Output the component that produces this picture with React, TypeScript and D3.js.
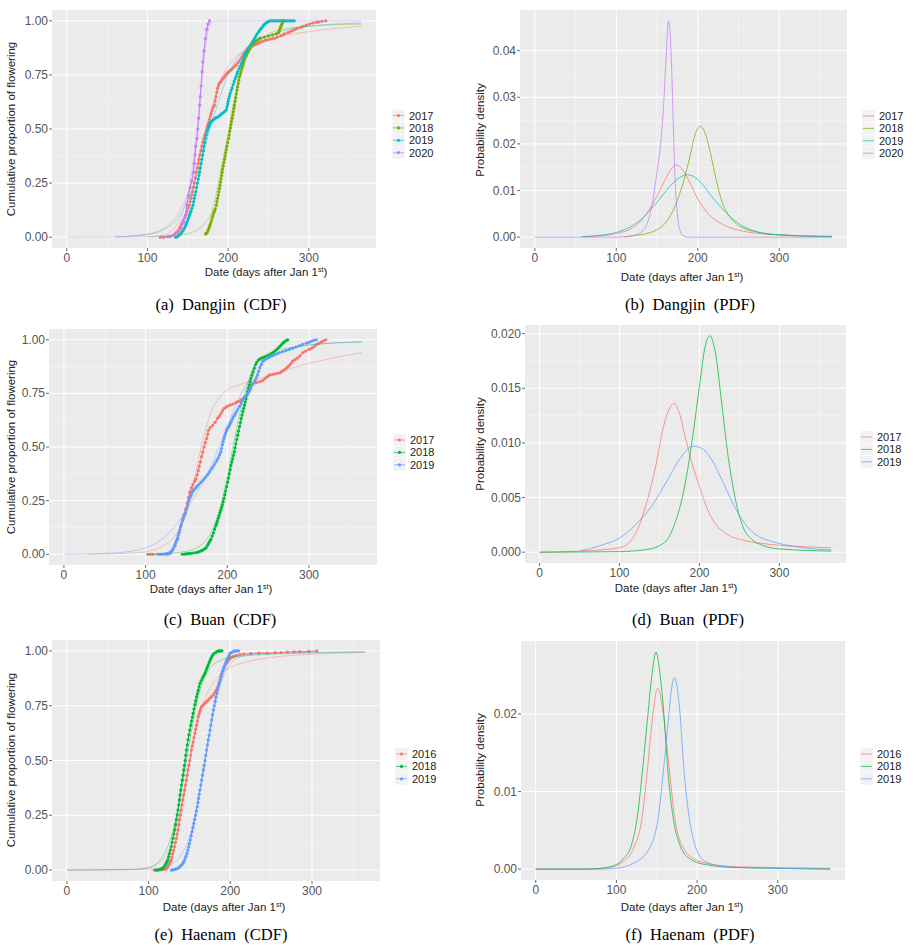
import React from "react";
import * as d3 from "d3";

type P = [number, number];

// ---------- palette (ggplot hue) ----------
const HUE4 = ["#F8766D", "#7CAE00", "#00BFC4", "#C77CFF"];
const HUE3 = ["#F8766D", "#00BA38", "#619CFF"];

// ---------- labels / ticks ----------
const YEARS_DJ = ["2017", "2018", "2019", "2020"];
const YEARS_BU = ["2017", "2018", "2019"];
const YEARS_HN = ["2016", "2018", "2019"];
const DAY_TICKS = [0, 100, 200, 300];
const DAY_MINOR = [50, 150, 250, 350];
const CDF_TICKS = [0, 0.25, 0.5, 0.75, 1];
const PDF_TICKS_B = [0, 0.01, 0.02, 0.03, 0.04];
const PDF_TICKS_D = [0, 0.005, 0.01, 0.015, 0.02];
const PDF_TICKS_F = [0, 0.01, 0.02];

// ---------- Dangjin CDF (empirical) ----------
const DJ_EMP_2017: P[] = [[116,0],[120,0],[125,0.003],[129,0.005],[132,0.01],[135,0.02],[138,0.03],[140,0.045],[142,0.06],[144,0.075],[146,0.09],[148,0.105],[149,0.12],[150.5,0.135],[152,0.148],[153,0.165],[154,0.18],[155,0.195],[156,0.21],[157,0.23],[158,0.25],[159.5,0.275],[160.6,0.3],[162,0.32],[163,0.34],[164,0.36],[165,0.38],[166.3,0.4],[167.5,0.42],[168.6,0.44],[169.7,0.456],[171,0.47],[172,0.48],[173,0.495],[174,0.51],[175,0.52],[176,0.53],[177,0.545],[178,0.56],[179,0.572],[180,0.585],[181.5,0.6],[183,0.61],[184,0.63],[185,0.65],[186,0.67],[187,0.688],[188,0.7],[189,0.71],[190,0.715],[191,0.72],[192.5,0.728],[194,0.735],[195.5,0.742],[197,0.75],[199,0.758],[200.7,0.765],[202.5,0.77],[204,0.775],[206,0.782],[208,0.79],[209.5,0.795],[211,0.8],[213,0.81],[215,0.82],[217,0.832],[219,0.845],[221,0.857],[223.6,0.87],[226,0.875],[228,0.88],[231,0.885],[234,0.89],[237,0.895],[240,0.9],[243,0.905],[246,0.91],[249,0.912],[252,0.915],[255,0.918],[258,0.92],[261,0.925],[265,0.93],[268,0.935],[270,0.94],[274,0.945],[277,0.95],[280,0.955],[283,0.96],[286,0.965],[290,0.97],[293,0.975],[297,0.98],[301,0.985],[305,0.99],[309,0.993],[312,0.995],[316,0.998],[321,1]];
const DJ_EMP_2018: P[] = [[172,0.015],[173,0.018],[174,0.02],[175,0.03],[176,0.04],[177,0.05],[178,0.06],[179,0.072],[180,0.085],[181,0.097],[182,0.11],[183,0.12],[184,0.13],[185.5,0.148],[186.2,0.165],[187,0.18],[187.8,0.195],[188.5,0.21],[189.3,0.225],[190,0.24],[190.6,0.255],[191.3,0.27],[192,0.285],[192.5,0.3],[193.2,0.315],[194,0.33],[194.8,0.345],[195.5,0.36],[196.3,0.375],[197,0.39],[197.8,0.405],[198.5,0.42],[199.5,0.438],[200.7,0.456],[201.3,0.472],[202,0.49],[202.8,0.505],[203.5,0.52],[204.2,0.535],[205,0.55],[205.8,0.565],[206.5,0.58],[207.2,0.595],[207.8,0.61],[208.7,0.628],[209.5,0.645],[210.2,0.662],[211,0.68],[211.8,0.695],[212.5,0.71],[213.2,0.725],[214,0.74],[215,0.752],[216,0.765],[217,0.778],[218,0.79],[219,0.802],[220,0.815],[221.3,0.828],[222.7,0.84],[224.3,0.852],[226,0.865],[227.5,0.875],[229,0.885],[230.5,0.893],[232,0.9],[234,0.905],[236,0.91],[238,0.915],[240,0.92],[245,0.925],[250,0.93],[255,0.935],[260,0.94],[262.6,0.946],[263.3,0.953],[264,0.96],[264.8,0.968],[265.5,0.975],[266.3,0.983],[267,0.99],[268,1],[269,1],[270,1]];
const DJ_EMP_2019: P[] = [[135,0],[136.5,0.002],[138,0.005],[139.5,0.01],[141,0.015],[142.5,0.022],[144,0.03],[145.5,0.04],[147,0.05],[148,0.06],[149,0.07],[150,0.08],[151,0.09],[152,0.1],[153,0.11],[154,0.12],[155,0.133],[156.5,0.148],[157.3,0.165],[158,0.18],[159,0.195],[160,0.21],[161,0.23],[162,0.25],[163,0.268],[164,0.285],[164.8,0.3],[165.6,0.32],[166.5,0.34],[167.5,0.36],[168.5,0.38],[169.3,0.4],[170,0.42],[171,0.438],[172,0.456],[173,0.473],[174,0.49],[175,0.5],[176,0.51],[177,0.52],[178,0.53],[179.5,0.535],[181,0.54],[182.5,0.545],[184,0.55],[185.5,0.553],[187,0.555],[188.7,0.56],[190.4,0.565],[192,0.57],[194,0.575],[196,0.582],[197.9,0.59],[198.7,0.603],[199.5,0.615],[200.1,0.628],[200.7,0.64],[201.6,0.652],[202.5,0.665],[203.7,0.678],[205,0.69],[206.2,0.705],[207.5,0.72],[208.7,0.733],[210,0.745],[211,0.755],[212,0.765],[213.5,0.778],[215,0.79],[216.5,0.803],[218,0.815],[219,0.828],[220,0.84],[221.5,0.85],[223,0.86],[224.5,0.87],[226,0.88],[228,0.89],[229.8,0.9],[231.5,0.91],[233,0.92],[234.5,0.93],[236,0.94],[238,0.95],[239.5,0.958],[241,0.965],[242.5,0.972],[244,0.98],[245.5,0.985],[247,0.99],[249,0.995],[250.5,0.998],[252,1],[254,1],[256,1],[258,1],[260,1],[262,1],[264,1],[266,1],[268,1],[270,1],[272,1],[274,1],[276,1],[278,1],[280,1],[282,1]];
const DJ_EMP_2020: P[] = [[120,0],[128,0.003],[133,0.01],[138,0.02],[142,0.04],[145,0.07],[147,0.1],[149,0.15],[151,0.19],[153,0.23],[155,0.26],[157,0.3],[158,0.34],[159,0.38],[160,0.42],[161.5,0.456],[162.5,0.5],[163.5,0.55],[164.8,0.61],[165.5,0.65],[166.5,0.7],[167.7,0.765],[168.7,0.81],[170,0.86],[171.8,0.918],[173.5,0.96],[175,0.985],[177,1]];

// ---------- Dangjin CDF (fitted) ----------
const DJ_FIT_2017: P[] = [[60,0],[80,0.005],[100,0.015],[120,0.04],[140,0.12],[150,0.2],[160,0.32],[170,0.46],[180,0.6],[190,0.72],[200,0.79],[210,0.835],[220,0.86],[240,0.9],[260,0.925],[300,0.95],[365,0.975]];
const DJ_FIT_2018: P[] = [[100,0.001],[140,0.01],[160,0.03],[170,0.06],[180,0.12],[190,0.29],[200,0.48],[210,0.68],[220,0.81],[232,0.885],[250,0.94],[275,0.965],[300,0.975],[365,0.985]];
const DJ_FIT_2019: P[] = [[60,0.002],[100,0.012],[120,0.035],[140,0.1],[150,0.17],[160,0.27],[170,0.4],[180,0.53],[190,0.65],[200,0.75],[210,0.82],[220,0.86],[232,0.89],[250,0.93],[275,0.96],[300,0.975],[365,0.99]];
const DJ_FIT_2020: P[] = [[0,0],[100,0.002],[120,0.01],[130,0.03],[140,0.08],[150,0.2],[155,0.3],[160,0.45],[165,0.63],[170,0.82],[175,0.95],[180,0.995],[190,1],[365,1]];

// ---------- Dangjin PDF ----------
const DJ_PDF_2017: P[] = [[60,0.0001],[80,0.0003],[100,0.0008],[120,0.002],[130,0.0035],[140,0.0058],[150,0.0088],[160,0.0123],[167,0.0145],[174,0.0155],[180,0.0148],[190,0.0118],[200,0.0082],[210,0.0056],[220,0.0039],[230,0.0028],[240,0.002],[250,0.0015],[275,0.0008],[300,0.0005],[365,0.0002]];
const DJ_PDF_2018: P[] = [[110,0],[120,0.0003],[140,0.0009],[150,0.0016],[160,0.003],[170,0.0058],[180,0.0105],[190,0.017],[197,0.0222],[203,0.0238],[208,0.0228],[215,0.0185],[222,0.0128],[230,0.0075],[240,0.0042],[250,0.0025],[275,0.001],[300,0.0005],[365,0.0001]];
const DJ_PDF_2019: P[] = [[57,0.0001],[80,0.0004],[100,0.001],[120,0.0025],[130,0.0037],[140,0.0055],[150,0.0075],[160,0.0097],[170,0.0117],[180,0.013],[187,0.0134],[195,0.013],[205,0.0115],[215,0.0092],[225,0.0071],[235,0.0052],[245,0.0036],[255,0.0024],[270,0.0013],[300,0.0005],[365,0.0001]];
const DJ_PDF_2020: P[] = [[0,0],[100,0],[120,0.0003],[130,0.001],[140,0.004],[145,0.008],[150,0.014],[155,0.021],[158,0.028],[161,0.038],[164,0.0464],[166,0.044],[168,0.036],[170,0.024],[172,0.013],[175,0.005],[178,0.0015],[182,0.0003],[190,0],[365,0]];

// ---------- Buan CDF (empirical) ----------
const BU_EMP_2017: P[] = [[103,0],[106,0],[109,0],[127,0],[130,0.005],[133,0.02],[136,0.04],[139,0.07],[141,0.1],[143,0.133],[145,0.16],[147,0.185],[149,0.21],[151,0.24],[152.5,0.265],[154,0.29],[156,0.31],[158,0.325],[160,0.34],[161.5,0.35],[163,0.37],[164.5,0.39],[165.6,0.41],[167,0.43],[168.5,0.455],[170,0.477],[171.5,0.5],[173,0.52],[174.6,0.54],[176,0.56],[177,0.578],[179,0.59],[182,0.6],[185,0.615],[188,0.633],[190,0.643],[192,0.655],[194,0.668],[196,0.68],[198,0.685],[200,0.69],[203,0.695],[206.6,0.7],[210,0.705],[212,0.71],[214.8,0.714],[217,0.72],[219,0.725],[221,0.732],[223,0.74],[225,0.755],[227,0.77],[229,0.785],[231,0.797],[233,0.8],[236,0.8],[240,0.805],[243.5,0.81],[246,0.818],[248,0.825],[250,0.83],[251.7,0.836],[255,0.838],[258,0.84],[261,0.843],[264,0.845],[266,0.85],[268,0.855],[270,0.86],[272,0.867],[274,0.873],[276,0.88],[278,0.89],[280,0.9],[283,0.907],[286,0.915],[289,0.925],[292.7,0.94],[296,0.947],[300,0.955],[303,0.96],[305,0.965],[307,0.971],[309,0.977],[312,0.983],[315,0.99],[318,0.995],[320.6,1]];
const BU_EMP_2018: P[] = [[145,0],[148,0.001],[150,0.002],[152,0.003],[155,0.004],[158,0.006],[161.5,0.008],[164,0.01],[166,0.013],[168,0.016],[170,0.02],[172,0.025],[174,0.03],[175.5,0.04],[177,0.05],[178.5,0.06],[180,0.07],[181.5,0.085],[183,0.1],[184.5,0.117],[186,0.133],[187,0.144],[188,0.155],[189,0.168],[190,0.18],[191,0.193],[192,0.205],[193,0.218],[194,0.23],[195,0.245],[196,0.26],[197,0.278],[198,0.295],[199.2,0.315],[200.5,0.336],[201.5,0.355],[202.5,0.375],[203.5,0.395],[204.5,0.414],[205.5,0.43],[206.5,0.445],[207.5,0.461],[208.6,0.477],[209.5,0.496],[210.5,0.515],[211.6,0.535],[212.7,0.555],[213.8,0.575],[215,0.595],[216,0.614],[217,0.633],[218,0.649],[219,0.665],[220,0.68],[221,0.695],[222,0.71],[223,0.725],[224,0.741],[225,0.758],[226,0.774],[227,0.79],[228,0.805],[229,0.82],[230.2,0.835],[231.5,0.85],[233,0.867],[234.5,0.883],[236,0.894],[238,0.905],[240,0.91],[241.5,0.914],[244,0.917],[246,0.92],[249,0.925],[252,0.93],[254,0.935],[256,0.94],[258,0.947],[260,0.953],[262,0.96],[264,0.968],[266,0.976],[268,0.984],[269.5,0.989],[271,0.993],[272.5,0.997],[274,1]];
const BU_EMP_2019: P[] = [[115,0],[118,0],[120,0],[123,0.001],[125,0.002],[127,0.003],[128.7,0.005],[130.5,0.01],[132,0.015],[133.5,0.025],[135,0.035],[136,0.045],[137,0.055],[138,0.065],[139,0.075],[140,0.088],[141,0.1],[142,0.114],[143,0.128],[144,0.142],[145,0.156],[146,0.165],[147,0.175],[148,0.185],[149,0.195],[150,0.207],[151,0.22],[152,0.235],[153,0.25],[154,0.26],[155,0.27],[156,0.28],[157,0.29],[158,0.295],[159,0.3],[160,0.305],[161.5,0.31],[163,0.317],[165,0.325],[167.5,0.335],[170,0.344],[172,0.353],[174,0.362],[176,0.372],[178,0.383],[180,0.394],[182,0.405],[184,0.417],[186,0.43],[187.5,0.44],[189,0.45],[190.5,0.463],[192,0.477],[193,0.493],[194,0.51],[195,0.525],[196,0.54],[197,0.553],[198,0.565],[199,0.575],[200,0.585],[201.2,0.592],[202.5,0.6],[203.7,0.61],[205,0.62],[206.5,0.632],[208,0.643],[209.5,0.653],[211,0.664],[213,0.677],[215,0.69],[217,0.705],[219,0.72],[221,0.73],[223,0.74],[225,0.75],[227,0.76],[228.5,0.772],[230,0.785],[232,0.797],[234,0.81],[235.5,0.823],[237,0.836],[238.5,0.853],[240,0.87],[241.7,0.885],[243.5,0.9],[245.5,0.906],[248,0.912],[250,0.916],[252,0.92],[255,0.925],[258,0.93],[261,0.935],[264,0.94],[268,0.945],[272,0.95],[276,0.955],[280,0.96],[284,0.966],[288,0.972],[292,0.978],[297,0.984],[300,0.988],[303,0.993],[306,0.997],[309,1]];

// ---------- Buan CDF (fitted) ----------
const BU_FIT_2017: P[] = [[30,0],[60,0.002],[80,0.005],[100,0.012],[120,0.035],[140,0.11],[150,0.2],[160,0.36],[170,0.53],[180,0.66],[190,0.73],[200,0.765],[215,0.79],[240,0.82],[260,0.845],[300,0.89],[330,0.915],[365,0.94]];
const BU_FIT_2018: P[] = [[100,0],[120,0.002],[140,0.008],[160,0.025],[170,0.05],[180,0.1],[190,0.2],[200,0.36],[210,0.56],[220,0.73],[230,0.85],[240,0.91],[260,0.95],[280,0.965],[300,0.975],[365,0.99]];
const BU_FIT_2019: P[] = [[0,0],[30,0.002],[60,0.006],[80,0.013],[100,0.03],[120,0.07],[140,0.15],[160,0.27],[175,0.37],[190,0.5],[200,0.6],[210,0.69],[220,0.77],[230,0.83],[240,0.88],[260,0.93],[280,0.96],[300,0.975],[330,0.985],[365,0.99]];

// ---------- Buan PDF ----------
const BU_PDF_2017: P[] = [[0,0],[50,0.0001],[100,0.0004],[120,0.0017],[135,0.0048],[145,0.0078],[155,0.0115],[162,0.0131],[168,0.0136],[175,0.0127],[182,0.0106],[190,0.0083],[200,0.006],[210,0.0039],[220,0.0026],[235,0.0016],[255,0.0011],[290,0.0007],[330,0.0005],[365,0.0004]];
const BU_PDF_2018: P[] = [[0,0],[100,0.00005],[130,0.0002],[150,0.0006],[160,0.0012],[170,0.0028],[180,0.0055],[190,0.0098],[200,0.0152],[207,0.0188],[213,0.0198],[220,0.0182],[228,0.0135],[235,0.0092],[245,0.0048],[255,0.0022],[265,0.0012],[280,0.0006],[300,0.0003],[365,0.0001]];
const BU_PDF_2019: P[] = [[50,0.0001],[80,0.0007],[100,0.0013],[120,0.0025],[140,0.0042],[160,0.0066],[175,0.0085],[192,0.0097],[205,0.0094],[215,0.0085],[230,0.0063],[245,0.004],[260,0.0023],[275,0.0014],[290,0.001],[330,0.0004],[365,0.0002]];

// ---------- Haenam CDF (empirical) ----------
const HN_EMP_2016: P[] = [[107,0],[110,0],[112,0],[115,0.001],[117,0.002],[119,0.003],[121.5,0.005],[123,0.012],[124,0.02],[125,0.027],[126,0.035],[127,0.04],[127.7,0.046],[128.6,0.06],[129.5,0.075],[130.6,0.09],[131.8,0.107],[132.9,0.126],[134,0.145],[135,0.164],[136,0.183],[137,0.207],[138,0.23],[139,0.252],[140,0.274],[141,0.297],[142,0.32],[143.1,0.343],[144.2,0.365],[145.2,0.388],[146.2,0.41],[147.3,0.433],[148.3,0.457],[149.4,0.478],[150.4,0.5],[151.5,0.524],[152.5,0.548],[153.5,0.567],[154.5,0.585],[155.6,0.605],[156.6,0.624],[157.6,0.642],[158.6,0.66],[159.7,0.68],[160.7,0.7],[161.8,0.713],[162.8,0.725],[163.9,0.736],[164.9,0.746],[166.5,0.752],[168,0.758],[169.5,0.763],[171,0.769],[173,0.776],[175,0.784],[177,0.792],[179.3,0.8],[181,0.81],[182.5,0.82],[184,0.832],[185.5,0.845],[186.5,0.857],[187.6,0.87],[188.7,0.884],[189.7,0.898],[190.7,0.908],[191.7,0.918],[192.8,0.927],[193.8,0.936],[195.4,0.944],[197,0.952],[198.5,0.96],[200,0.967],[202,0.971],[204,0.975],[206,0.978],[208,0.98],[212,0.983],[216.5,0.986],[225,0.988],[235,0.99],[245,0.99],[255,0.992],[262,0.993],[270,0.995],[278,0.996],[285,0.997],[296,0.998],[306,1]];
const HN_EMP_2018: P[] = [[109,0],[111,0.001],[113,0.002],[115,0.005],[117,0.008],[118.5,0.013],[120,0.02],[121.2,0.03],[122.3,0.038],[123.5,0.046],[124.5,0.06],[125.5,0.075],[126.6,0.091],[127.7,0.107],[128.7,0.126],[129.8,0.145],[130.8,0.164],[131.8,0.183],[132.9,0.207],[134,0.23],[135,0.252],[136,0.274],[136.9,0.297],[137.7,0.32],[138.5,0.343],[139.3,0.365],[140.2,0.388],[141.2,0.41],[142.1,0.433],[143,0.457],[143.8,0.478],[144.7,0.5],[145.5,0.524],[146.3,0.548],[147.3,0.572],[148.4,0.595],[149.4,0.617],[150.4,0.639],[151.5,0.66],[152.5,0.68],[153.5,0.698],[154.5,0.715],[155.5,0.735],[156.6,0.755],[157.6,0.772],[158.7,0.79],[159.7,0.805],[160.7,0.82],[161.8,0.836],[162.8,0.852],[164.4,0.865],[166,0.877],[167.5,0.888],[169,0.898],[170,0.908],[171,0.918],[172,0.927],[173,0.936],[174,0.946],[175,0.955],[176.2,0.965],[177.3,0.974],[178.6,0.981],[180,0.988],[181.8,0.993],[183.5,0.997],[185,0.999],[186.5,1],[188,1],[189.7,1]];
const HN_EMP_2019: P[] = [[128,0],[130,0.001],[132,0.003],[134,0.005],[136,0.008],[137.5,0.013],[139,0.018],[140.5,0.024],[142,0.03],[143.2,0.04],[144.5,0.05],[145.8,0.063],[147,0.076],[148,0.09],[149,0.105],[150,0.121],[151,0.137],[152.1,0.156],[153.2,0.175],[154.3,0.194],[155.4,0.213],[156.4,0.231],[157.5,0.25],[158.5,0.27],[159.5,0.289],[160.4,0.308],[161.2,0.327],[162,0.346],[162.8,0.365],[163.9,0.388],[165,0.41],[166,0.433],[167,0.457],[168,0.478],[169,0.5],[170,0.524],[171,0.548],[172,0.571],[173,0.594],[174.1,0.616],[175.2,0.639],[176.2,0.662],[177.2,0.685],[178.2,0.708],[179.3,0.73],[180.3,0.75],[181.4,0.77],[182.4,0.789],[183.5,0.807],[184.5,0.824],[185.5,0.84],[186.6,0.854],[187.6,0.868],[188.6,0.882],[189.6,0.895],[190.6,0.908],[191.7,0.921],[192.7,0.93],[193.8,0.94],[194.8,0.95],[195.9,0.959],[197,0.967],[198,0.975],[199,0.983],[200,0.99],[201.5,0.993],[203,0.996],[204.5,0.998],[206,1],[208,1],[210,1]];

// ---------- Haenam CDF (fitted) ----------
const HN_FIT_2016: P[] = [[0,0],[80,0.002],[100,0.01],[110,0.025],[120,0.06],[130,0.14],[140,0.3],[150,0.5],[160,0.67],[170,0.79],[180,0.86],[190,0.9],[200,0.925],[220,0.95],[250,0.97],[300,0.985],[365,0.993]];
const HN_FIT_2018: P[] = [[0,0],[80,0.003],[100,0.012],[110,0.03],[120,0.08],[130,0.18],[140,0.36],[150,0.58],[160,0.78],[170,0.89],[180,0.94],[190,0.96],[200,0.97],[250,0.985],[365,0.995]];
const HN_FIT_2019: P[] = [[0,0],[100,0.003],[120,0.015],[130,0.03],[140,0.07],[150,0.15],[160,0.3],[170,0.52],[180,0.73],[190,0.87],[200,0.94],[210,0.97],[230,0.985],[365,0.997]];

// ---------- Haenam PDF ----------
const HN_PDF_2016: P[] = [[0,0],[60,0],[90,0.0002],[106,0.0008],[122,0.0029],[132,0.0068],[138,0.0124],[144,0.0188],[151,0.0233],[156,0.0215],[160,0.0184],[166,0.0124],[172,0.0068],[182,0.0029],[198,0.0012],[226,0.0005],[250,0.0003],[300,0.0002],[365,0.0001]];
const HN_PDF_2018: P[] = [[0,0],[60,0],[80,0.0001],[100,0.0006],[110,0.0015],[118,0.0029],[126,0.0068],[132,0.0124],[138,0.0188],[144,0.025],[149,0.028],[153,0.026],[158,0.021],[164,0.0124],[170,0.0068],[178,0.0033],[190,0.0014],[210,0.0006],[250,0.0002],[300,0.0001],[365,0]];
const HN_PDF_2019: P[] = [[0,0],[80,0],[98,0.0001],[122,0.0008],[142,0.0029],[152,0.0068],[158,0.0124],[164,0.0188],[168,0.023],[172,0.0247],[175,0.0235],[178,0.021],[184,0.0124],[190,0.0068],[198,0.0029],[210,0.001],[234,0.0003],[300,0.0001],[365,0]];

// ---------- layout ----------
const SANS = "'Liberation Sans', Arial, Helvetica, sans-serif";
const SERIF = "'Liberation Serif', 'Times New Roman', serif";
const X_DOMAIN: [number, number] = [-18.25, 383.25];

type Series = { emp?: P[]; fit: P[]; color: string };
type PanelCfg = {
  id: string;
  box: { l: number; r: number; t: number; b: number };
  kind: "cdf" | "pdf";
  yTicks: number[];
  yFmt: (v: number) => string;
  yMinor: number[];
  yTitle: string;
  yTitlePos: [number, number];
  xTitlePos: [number, number];
  caption: string;
  captionPos: [number, number];
  legend: { x: number; y: number; dy: number; labels: string[] };
  series: Series[];
};

const fmt2 = d3.format(".2f");
const fmt3 = d3.format(".3f");
const LEG_DY = 12.4;

const PANELS: PanelCfg[] = [
  {
    id: "a", box: { l: 52, r: 376, t: 10, b: 248 }, kind: "cdf",
    yTicks: CDF_TICKS, yFmt: fmt2, yMinor: [0.125, 0.375, 0.625, 0.875],
    yTitle: "Cumulative proportion of flowering", yTitlePos: [15, 129],
    xTitlePos: [266, 276], caption: "(a)  Dangjin  (CDF)", captionPos: [221, 310],
    legend: { x: 392, y: 115.5, dy: LEG_DY, labels: YEARS_DJ },
    series: [
      { emp: DJ_EMP_2017, fit: DJ_FIT_2017, color: HUE4[0] },
      { emp: DJ_EMP_2018, fit: DJ_FIT_2018, color: HUE4[1] },
      { emp: DJ_EMP_2019, fit: DJ_FIT_2019, color: HUE4[2] },
      { emp: DJ_EMP_2020, fit: DJ_FIT_2020, color: HUE4[3] },
    ],
  },
  {
    id: "b", box: { l: 520, r: 847, t: 10, b: 248 }, kind: "pdf",
    yTicks: PDF_TICKS_B, yFmt: fmt2, yMinor: [0.005, 0.015, 0.025, 0.035, 0.045],
    yTitle: "Probability density", yTitlePos: [484, 130],
    xTitlePos: [682, 281], caption: "(b)  Dangjin  (PDF)", captionPos: [690, 310],
    legend: { x: 862, y: 116, dy: LEG_DY, labels: YEARS_DJ },
    series: [
      { fit: DJ_PDF_2017, color: HUE4[0] },
      { fit: DJ_PDF_2018, color: HUE4[1] },
      { fit: DJ_PDF_2019, color: HUE4[2] },
      { fit: DJ_PDF_2020, color: HUE4[3] },
    ],
  },
  {
    id: "c", box: { l: 49, r: 377, t: 329, b: 565 }, kind: "cdf",
    yTicks: CDF_TICKS, yFmt: fmt2, yMinor: [0.125, 0.375, 0.625, 0.875],
    yTitle: "Cumulative proportion of flowering", yTitlePos: [15, 447],
    xTitlePos: [211, 593], caption: "(c)  Buan  (CDF)", captionPos: [220, 625],
    legend: { x: 393, y: 440, dy: LEG_DY, labels: YEARS_BU },
    series: [
      { emp: BU_EMP_2017, fit: BU_FIT_2017, color: HUE3[0] },
      { emp: BU_EMP_2018, fit: BU_FIT_2018, color: HUE3[1] },
      { emp: BU_EMP_2019, fit: BU_FIT_2019, color: HUE3[2] },
    ],
  },
  {
    id: "d", box: { l: 525, r: 846, t: 325, b: 563 }, kind: "pdf",
    yTicks: PDF_TICKS_D, yFmt: fmt3, yMinor: [0.0025, 0.0075, 0.0125, 0.0175],
    yTitle: "Probability density", yTitlePos: [484, 444],
    xTitlePos: [676, 592], caption: "(d)  Buan  (PDF)", captionPos: [688, 625],
    legend: { x: 860, y: 437, dy: LEG_DY, labels: YEARS_BU },
    series: [
      { fit: BU_PDF_2017, color: HUE3[0] },
      { fit: BU_PDF_2018, color: HUE3[1] },
      { fit: BU_PDF_2019, color: HUE3[2] },
    ],
  },
  {
    id: "e", box: { l: 52, r: 380, t: 640, b: 881 }, kind: "cdf",
    yTicks: CDF_TICKS, yFmt: fmt2, yMinor: [0.125, 0.375, 0.625, 0.875],
    yTitle: "Cumulative proportion of flowering", yTitlePos: [15, 760],
    xTitlePos: [224, 911], caption: "(e)  Haenam  (CDF)", captionPos: [221, 940],
    legend: { x: 395, y: 754, dy: LEG_DY, labels: YEARS_HN },
    series: [
      { emp: HN_EMP_2016, fit: HN_FIT_2016, color: HUE3[0] },
      { emp: HN_EMP_2018, fit: HN_FIT_2018, color: HUE3[1] },
      { emp: HN_EMP_2019, fit: HN_FIT_2019, color: HUE3[2] },
    ],
  },
  {
    id: "f", box: { l: 521, r: 845, t: 641, b: 880 }, kind: "pdf",
    yTicks: PDF_TICKS_F, yFmt: fmt2, yMinor: [0.005, 0.015, 0.025],
    yTitle: "Probability density", yTitlePos: [484, 760],
    xTitlePos: [682, 911], caption: "(f)  Haenam  (PDF)", captionPos: [690, 940],
    legend: { x: 860, y: 754, dy: LEG_DY, labels: YEARS_HN },
    series: [
      { fit: HN_PDF_2016, color: HUE3[0] },
      { fit: HN_PDF_2018, color: HUE3[1] },
      { fit: HN_PDF_2019, color: HUE3[2] },
    ],
  },
];

function Panel({ cfg }: { cfg: PanelCfg }) {
  const { box } = cfg;
  const x = d3.scaleLinear().domain(X_DOMAIN).range([box.l, box.r]);
  let yDom: [number, number];
  if (cfg.kind === "cdf") {
    yDom = [-0.05, 1.05];
  } else {
    const mx = d3.max(cfg.series, (s) => d3.max(s.fit, (p) => p[1])) as number;
    yDom = [-0.05 * mx, 1.05 * mx];
  }
  const y = d3.scaleLinear().domain(yDom).range([box.b, box.t]);
  const straight = d3.line<P>().x((p) => x(p[0])).y((p) => y(p[1]));
  const smooth = d3
    .line<P>()
    .x((p) => x(p[0]))
    .y((p) => y(p[1]))
    .curve(d3.curveMonotoneX);
  const clipId = `clip-${cfg.id}`;
  const tickColor = "#555";
  const minorY = cfg.yMinor.filter((v) => v > yDom[0] && v < yDom[1]);

  return (
    <g>
      <defs>
        <clipPath id={clipId}>
          <rect x={box.l} y={box.t} width={box.r - box.l} height={box.b - box.t} />
        </clipPath>
      </defs>
      <rect x={box.l} y={box.t} width={box.r - box.l} height={box.b - box.t} fill="#EBEBEB" />
      {/* grid */}
      {DAY_MINOR.map((d) => (
        <line key={"xm" + d} x1={x(d)} x2={x(d)} y1={box.t} y2={box.b} stroke="#fff" strokeWidth={0.5} opacity={0.8} />
      ))}
      {minorY.map((v) => (
        <line key={"ym" + v} x1={box.l} x2={box.r} y1={y(v)} y2={y(v)} stroke="#fff" strokeWidth={0.5} opacity={0.8} />
      ))}
      {DAY_TICKS.map((d) => (
        <line key={"xM" + d} x1={x(d)} x2={x(d)} y1={box.t} y2={box.b} stroke="#fff" strokeWidth={1} />
      ))}
      {cfg.yTicks.map((v) => (
        <line key={"yM" + v} x1={box.l} x2={box.r} y1={y(v)} y2={y(v)} stroke="#fff" strokeWidth={1} />
      ))}
      {/* data */}
      <g clipPath={`url(#${clipId})`}>
        {cfg.series.map((s, i) =>
          s.emp ? (
            <g key={"e" + i}>
              <path d={straight(s.emp) || ""} fill="none" stroke={s.color} strokeWidth={1.1} />
              {s.emp.map((p, j) => (
                <circle key={j} cx={x(p[0])} cy={y(p[1])} r={1.6} fill={s.color} />
              ))}
            </g>
          ) : null
        )}
        {cfg.series.map((s, i) => (
          <path
            key={"f" + i}
            d={smooth(s.fit) || ""}
            fill="none"
            stroke={s.color}
            strokeWidth={cfg.kind === "cdf" ? 0.7 : 1}
            opacity={cfg.kind === "cdf" ? 0.55 : 0.75}
          />
        ))}
      </g>
      {/* axes ticks */}
      {DAY_TICKS.map((d) => (
        <g key={"xt" + d}>
          <line x1={x(d)} x2={x(d)} y1={box.b} y2={box.b + 3} stroke="#444" strokeWidth={0.8} />
          <text x={x(d)} y={box.b + 14} textAnchor="middle" fontSize={12} fill={tickColor} fontFamily={SANS}>
            {d}
          </text>
        </g>
      ))}
      {cfg.yTicks.map((v) => (
        <g key={"yt" + v}>
          <line x1={box.l - 3} x2={box.l} y1={y(v)} y2={y(v)} stroke="#444" strokeWidth={0.8} />
          <text x={box.l - 4} y={y(v) + 4} textAnchor="end" fontSize={12} fill={tickColor} fontFamily={SANS}>
            {cfg.yFmt(v)}
          </text>
        </g>
      ))}
      {/* axis titles */}
      <text
        x={cfg.xTitlePos[0]}
        y={cfg.xTitlePos[1]}
        textAnchor="middle"
        fontSize={11.5}
        fill="#222"
        fontFamily={SANS}
      >
        Date (days after Jan 1<tspan fontSize={7} dy={-4}>st</tspan>
        <tspan dy={4}>)</tspan>
      </text>
      <text
        transform={`translate(${cfg.yTitlePos[0]},${cfg.yTitlePos[1]}) rotate(-90)`}
        textAnchor="middle"
        fontSize={11.5}
        fill="#222"
        fontFamily={SANS}
      >
        {cfg.yTitle}
      </text>
      {/* legend */}
      <g>
        {cfg.legend.labels.map((lab, i) => {
          const cy = cfg.legend.y + i * cfg.legend.dy;
          const s = cfg.series[i];
          const kx = cfg.legend.x;
          return (
            <g key={"lg" + i}>
              <rect x={kx} y={cy - cfg.legend.dy / 2} width={13} height={cfg.legend.dy} fill="#F2F2F2" stroke="#fff" strokeWidth={0.5} />
              <line
                x1={kx + 1}
                x2={kx + 12}
                y1={cy}
                y2={cy}
                stroke={s.color}
                strokeWidth={cfg.kind === "cdf" ? 0.9 : 1}
                opacity={cfg.kind === "cdf" ? 0.8 : 0.7}
              />
              {cfg.kind === "cdf" ? <circle cx={kx + 6.5} cy={cy} r={1.6} fill={s.color} /> : null}
              <text x={kx + 17} y={cy + 4} fontSize={11} fill="#222" fontFamily={SANS}>
                {lab}
              </text>
            </g>
          );
        })}
      </g>
      {/* caption */}
      <text
        x={cfg.captionPos[0]}
        y={cfg.captionPos[1]}
        textAnchor="middle"
        fontSize={16.5}
        fill="#000"
        fontFamily={SERIF}
        style={{ whiteSpace: "pre" }}
      >
        {cfg.caption}
      </text>
    </g>
  );
}

export default function App() {
  return (
    <svg
      width={916}
      height={950}
      viewBox="0 0 916 950"
      style={{ position: "absolute", left: 0, top: 0, background: "#fff" }}
    >
      <rect x={0} y={0} width={916} height={950} fill="#fff" />
      {PANELS.map((p) => (
        <Panel key={p.id} cfg={p} />
      ))}
    </svg>
  );
}
